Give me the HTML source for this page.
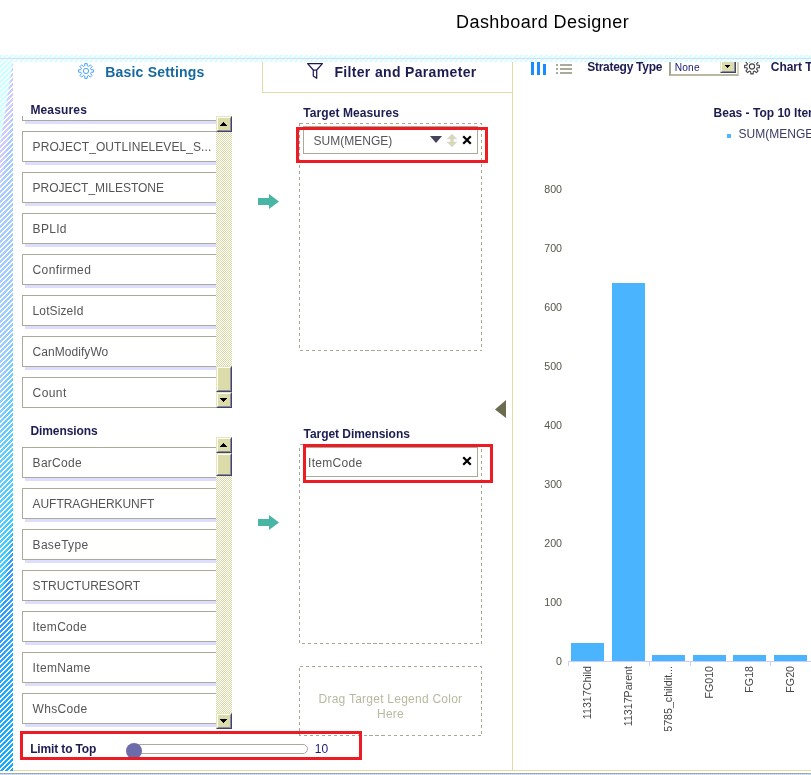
<!DOCTYPE html>
<html><head><meta charset="utf-8"><title>Dashboard Designer</title>
<style>
html,body{margin:0;padding:0;background:#fff;}
body{width:811px;height:775px;position:relative;overflow:hidden;font-family:"Liberation Sans", Arial, sans-serif;}
.t{position:absolute;line-height:20px;white-space:nowrap;}
.r{position:absolute;}
svg{position:absolute;overflow:visible;}
.list{position:absolute;left:22px;width:210px;height:292px;overflow:hidden;}
.item{position:absolute;left:0;width:204px;height:29px;border:1px solid #aaaa99;background:#fff;box-shadow:3px 3px 0 0 #ddddff;}
.item span{position:absolute;left:9.6px;top:5px;line-height:20px;font-size:12px;color:#555555;white-space:nowrap;}
.sb{position:absolute;left:194px;top:0;width:16px;height:292px;}
.btn{position:absolute;left:0;width:16px;height:16px;box-sizing:border-box;background:#dcdcaa;border-top:1px solid #e6e6b8;border-left:1px solid #e6e6b8;border-right:1px solid #44445e;border-bottom:1px solid #44445e;}
.btn:before{content:"";position:absolute;left:0;top:0;right:0;bottom:0;border-top:1px solid #fff;border-left:1px solid #fff;border-right:1px solid #8a8aa6;border-bottom:1px solid #8a8aa6;}
.dash{position:absolute;}
</style></head><body>

<svg width="0" height="0" style="left:0;top:0"><defs>
<pattern id="hatch" width="5" height="5" patternUnits="userSpaceOnUse">
<rect x="3" y="0" width="1" height="1" fill="#fff"/>
<rect x="4" y="0" width="1" height="1" fill="#fff"/>
<rect x="2" y="1" width="1" height="1" fill="#fff"/>
<rect x="3" y="1" width="1" height="1" fill="#fff"/>
<rect x="1" y="2" width="1" height="1" fill="#fff"/>
<rect x="2" y="2" width="1" height="1" fill="#fff"/>
<rect x="0" y="3" width="1" height="1" fill="#fff"/>
<rect x="1" y="3" width="1" height="1" fill="#fff"/>
<rect x="0" y="4" width="1" height="1" fill="#fff"/>
<rect x="4" y="4" width="1" height="1" fill="#fff"/>
</pattern>
<pattern id="chk" width="2" height="2" patternUnits="userSpaceOnUse"><rect width="2" height="2" fill="#fff"/><rect x="0" y="0" width="1" height="1" fill="#d8d8a4"/><rect x="1" y="1" width="1" height="1" fill="#d8d8a4"/></pattern>
<pattern id="dots" width="2" height="1" patternUnits="userSpaceOnUse"><rect width="1" height="1" fill="#aaddff"/><rect x="1" width="1" height="1" fill="#ddddff"/></pattern>
<linearGradient id="lg" gradientUnits="userSpaceOnUse" x1="0" y1="62" x2="119.3" y2="80.36">
<stop offset="0" stop-color="#ccffff"/>
<stop offset="0.098" stop-color="#ccffff"/>
<stop offset="0.111" stop-color="#ccccff"/>
<stop offset="0.155" stop-color="#ccccff"/>
<stop offset="0.171" stop-color="#aaccff"/>
<stop offset="0.42" stop-color="#99ccff"/>
<stop offset="0.50" stop-color="#66ccff"/>
<stop offset="0.60" stop-color="#55ccff"/>
<stop offset="0.68" stop-color="#33ccff"/>
<stop offset="0.715" stop-color="#3399ff"/>
<stop offset="0.76" stop-color="#33a0ff"/>
<stop offset="0.82" stop-color="#22aaff"/>
<stop offset="1" stop-color="#11aaff"/>
</linearGradient>
</defs></svg>
<div class="t " style="left:456px;top:11.55px;font-size:18px;color:#000;font-weight:normal;letter-spacing:0.45px;">Dashboard Designer</div>
<svg width="811" height="62" style="left:0;top:0" shape-rendering="crispEdges"><rect y="55" width="811" height="7" fill="#d4ffff"/><rect y="55" width="811" height="7" fill="url(#hatch)"/><rect y="58" width="811" height="1" fill="#d9d9ff"/></svg>
<svg width="13" height="771" style="left:0;top:0" shape-rendering="crispEdges"><rect y="62" width="13" height="709" fill="url(#lg)"/><rect y="62" width="13" height="709" fill="url(#hatch)"/></svg>
<div class="r" style="left:13px;top:770px;width:798px;height:1px;background:#ddddaa;"></div>
<div class="r" style="left:0px;top:773px;width:811px;height:1px;background:#aaaaa0;"></div>
<svg width="811" height="1" style="left:0;top:774px" shape-rendering="crispEdges"><rect width="811" height="1" fill="url(#dots)"/></svg>
<div class="r" style="left:512px;top:62px;width:1px;height:708px;background:#ddddaa;"></div>
<svg width="811" height="100" style="left:0;top:0"><path d="M84.69,65.86 L84.81,63.60 L87.19,63.60 L87.31,65.86 L88.70,66.44 L90.39,64.92 L92.08,66.61 L90.56,68.30 L91.14,69.69 L93.40,69.81 L93.40,72.19 L91.14,72.31 L90.56,73.70 L92.08,75.39 L90.39,77.08 L88.70,75.56 L87.31,76.14 L87.19,78.40 L84.81,78.40 L84.69,76.14 L83.30,75.56 L81.61,77.08 L79.92,75.39 L81.44,73.70 L80.86,72.31 L78.60,72.19 L78.60,69.81 L80.86,69.69 L81.44,68.30 L79.92,66.61 L81.61,64.92 L83.30,66.44Z" fill="none" stroke="#4aa3ff" stroke-width="1.0" stroke-linejoin="round"/><circle cx="86" cy="71" r="2.6" fill="none" stroke="#4aa3ff" stroke-width="1.0"/></svg>
<div class="t " style="left:105.2px;top:61.87px;font-size:14px;color:#15699f;font-weight:bold;letter-spacing:0.2px;">Basic Settings</div>
<div class="r" style="left:262px;top:62px;width:1px;height:31px;background:#ddddaa;"></div>
<div class="r" style="left:262px;top:92px;width:251px;height:1px;background:#ddddaa;"></div>
<svg width="811" height="100" style="left:0;top:0"><path d="M307.6,63.6 H322.4 L316.7,70 V78.3 L313.3,76 V70 Z M313.3,70 H316.7" fill="none" stroke="#1c1c50" stroke-width="1.25" stroke-linejoin="round"/></svg>
<div class="t " style="left:334.4px;top:62.07px;font-size:14px;color:#1c1c52;font-weight:bold;letter-spacing:0.34px;">Filter and Parameter</div>
<div class="t " style="left:30.4px;top:100.03px;font-size:12px;color:#1c1c52;font-weight:bold;letter-spacing:0.15px;">Measures</div>
<div class="list" style="top:116px">
<div class="item" style="top:-26px"><span style="letter-spacing:0px">&nbsp;</span></div>
<div class="item" style="top:15px"><span style="letter-spacing:0.08px">PROJECT_OUTLINELEVEL_S...</span></div>
<div class="item" style="top:56px"><span style="letter-spacing:-0.03px">PROJECT_MILESTONE</span></div>
<div class="item" style="top:97px"><span style="letter-spacing:0.3px">BPLId</span></div>
<div class="item" style="top:138px"><span style="letter-spacing:0.36px">Confirmed</span></div>
<div class="item" style="top:179px"><span style="letter-spacing:0.1px">LotSizeId</span></div>
<div class="item" style="top:220px"><span style="letter-spacing:0.05px">CanModifyWo</span></div>
<div class="item" style="top:261px"><span style="letter-spacing:0.4px">Count</span></div>
<div class="sb"><svg width="16" height="292" style="left:0;top:0" shape-rendering="crispEdges"><rect width="16" height="292" fill="url(#chk)"/></svg><div class="btn" style="top:0"></div><svg width="16" height="16" style="left:0;top:0" shape-rendering="crispEdges"><path d="M7,6h1v1h1v1h1v1h1v1h-7v-1h1v-1h1v-1h1z" fill="#000"/></svg><div class="btn" style="top:250px;height:26px"></div><div class="btn" style="top:276px"></div><svg width="16" height="16" style="left:0;top:276px" shape-rendering="crispEdges"><path d="M4,6h7v1h-1v1h-1v1h-1v1h-1v-1h-1v-1h-1v-1h-1z" fill="#000"/></svg></div>
</div>
<div class="t " style="left:30.4px;top:421.03px;font-size:12px;color:#1c1c52;font-weight:bold;letter-spacing:-0.08px;">Dimensions</div>
<div class="list" style="top:437px">
<div class="item" style="top:10px"><span style="letter-spacing:0.28px">BarCode</span></div>
<div class="item" style="top:51px"><span style="letter-spacing:-0.07px">AUFTRAGHERKUNFT</span></div>
<div class="item" style="top:92px"><span style="letter-spacing:0.3px">BaseType</span></div>
<div class="item" style="top:133px"><span style="letter-spacing:0.03px">STRUCTURESORT</span></div>
<div class="item" style="top:174px"><span style="letter-spacing:0.3px">ItemCode</span></div>
<div class="item" style="top:215px"><span style="letter-spacing:0.35px">ItemName</span></div>
<div class="item" style="top:256px"><span style="letter-spacing:0.3px">WhsCode</span></div>
<div class="sb"><svg width="16" height="292" style="left:0;top:0" shape-rendering="crispEdges"><rect width="16" height="292" fill="url(#chk)"/></svg><div class="btn" style="top:0"></div><svg width="16" height="16" style="left:0;top:0" shape-rendering="crispEdges"><path d="M7,6h1v1h1v1h1v1h1v1h-7v-1h1v-1h1v-1h1z" fill="#000"/></svg><div class="btn" style="top:16px;height:23px"></div><div class="btn" style="top:276px"></div><svg width="16" height="16" style="left:0;top:276px" shape-rendering="crispEdges"><path d="M4,6h7v1h-1v1h-1v1h-1v1h-1v-1h-1v-1h-1v-1h-1z" fill="#000"/></svg></div>
</div>
<div class="t " style="left:30.2px;top:738.53px;font-size:12px;color:#1c1c52;font-weight:bold;letter-spacing:-0.15px;">Limit to Top</div>
<div class="r" style="left:134px;top:744px;width:172px;height:8px;border:1px solid #aaaa99;border-radius:5px;background:#fff"></div>
<div class="r" style="left:126px;top:743px;width:16px;height:16px;border-radius:8px;background:#6c6caa"></div>
<div class="t " style="left:314.8px;top:738.73px;font-size:12px;color:#20207a;font-weight:normal;letter-spacing:0px;">10</div>
<svg width="811" height="775" style="left:0;top:0"><path d="M258,198.0 H269 V194.0 L279,201.5 L269,209.0 V205.0 H258 Z" fill="#48b5a5"/></svg>
<svg width="811" height="775" style="left:0;top:0"><path d="M258,519.0 H269 V515.0 L279,522.5 L269,530.0 V526.0 H258 Z" fill="#48b5a5"/></svg>
<div class="t " style="left:303.3px;top:102.83px;font-size:12px;color:#1c1c52;font-weight:bold;letter-spacing:0.08px;">Target Measures</div>
<svg width="183" height="228" style="left:299px;top:123px" shape-rendering="crispEdges"><rect x="0.5" y="0.5" width="182" height="227" fill="none" stroke="#a8a892" stroke-width="1" stroke-dasharray="3 3"/></svg>
<div class="t " style="left:303.5px;top:423.83px;font-size:12px;color:#1c1c52;font-weight:bold;letter-spacing:-0.05px;">Target Dimensions</div>
<svg width="183" height="200" style="left:299px;top:444px" shape-rendering="crispEdges"><rect x="0.5" y="0.5" width="182" height="199" fill="none" stroke="#a8a892" stroke-width="1" stroke-dasharray="3 3"/></svg>
<svg width="183" height="70" style="left:299px;top:666px" shape-rendering="crispEdges"><rect x="0.5" y="0.5" width="182" height="69" fill="none" stroke="#a8a892" stroke-width="1" stroke-dasharray="3 3"/></svg>
<div class="t " style="left:318.5px;top:688.83px;font-size:12px;color:#b9b9a0;font-weight:normal;letter-spacing:0.25px;">Drag Target Legend Color</div>
<div class="t " style="left:377px;top:703.53px;font-size:12px;color:#b9b9a0;font-weight:normal;letter-spacing:0.25px;">Here</div>
<div class="r" style="left:303px;top:126px;width:173px;height:26px;border:1px solid #aaaa99;background:#fff"></div>
<div class="t " style="left:313.6px;top:130.63px;font-size:12px;color:#555555;font-weight:normal;letter-spacing:0px;">SUM(MENGE)</div>
<svg width="811" height="775" style="left:0;top:0"><path d="M430,136 h12 l-6,7 z" fill="#44445a"/><path d="M447,139 l5,-5 l5,5 h-3.5 v3 h3.5 l-5,5 l-5,-5 h3.5 v-3 z" fill="#d9d9b0" stroke="#dcdcf4" stroke-width="0.7"/><path d="M464,137 l6,6 M470,137 l-6,6" stroke="#000" stroke-width="2.2" stroke-linecap="square" fill="none"/></svg>
<div class="r" style="left:303px;top:447px;width:173px;height:28px;border:1px solid #aaaa99;background:#fff"></div>
<div class="t " style="left:308.0px;top:452.63px;font-size:12px;color:#555555;font-weight:normal;letter-spacing:0.3px;">ItemCode</div>
<svg width="811" height="775" style="left:0;top:0"><path d="M464,458 l6,6 M470,458 l-6,6" stroke="#000" stroke-width="2.2" stroke-linecap="square" fill="none"/></svg>
<div class="r" style="left:296px;top:127px;width:186px;height:30px;border:3px solid #ed1c24"></div>
<div class="r" style="left:303px;top:444px;width:184px;height:33px;border:3px solid #ed1c24"></div>
<div class="r" style="left:20px;top:731px;width:336px;height:23px;border:3px solid #ed1c24"></div>
<svg width="811" height="775" style="left:0;top:0"><path d="M506,400 V418 L495,409.5 Z" fill="#6b6b4f"/></svg>
<div class="r" style="left:531px;top:62px;width:3px;height:13px;background:#1a8cff;"></div>
<div class="r" style="left:537px;top:62px;width:3px;height:13px;background:#1a8cff;"></div>
<div class="r" style="left:543px;top:64px;width:3px;height:11px;background:#1a8cff;"></div>
<div class="r" style="left:556px;top:64px;width:2px;height:2px;background:#aaaa99;"></div>
<div class="r" style="left:560px;top:64px;width:12px;height:2px;background:#aaaa99;"></div>
<div class="r" style="left:556px;top:68px;width:2px;height:2px;background:#aaaa99;"></div>
<div class="r" style="left:560px;top:68px;width:12px;height:2px;background:#aaaa99;"></div>
<div class="r" style="left:556px;top:72px;width:2px;height:2px;background:#aaaa99;"></div>
<div class="r" style="left:560px;top:72px;width:12px;height:2px;background:#aaaa99;"></div>
<div class="t " style="left:587.2px;top:56.53px;font-size:12px;color:#1c1c52;font-weight:bold;letter-spacing:-0.27px;">Strategy Type</div>
<div class="r" style="left:669px;top:57px;width:66px;height:15px;border-left:2px solid #a4a494;border-top:2px solid #a4a494;border-right:2px solid #d4d4bc;border-bottom:2px solid #b8b8a4;background:#fff"></div>
<div class="t " style="left:674.7px;top:57.93px;font-size:10.2px;color:#20207a;font-weight:normal;letter-spacing:0.2px;">None</div>
<div class="btn" style="position:absolute;left:720px;top:59px;width:16px;height:14px"></div>
<svg width="16" height="16" style="left:720px;top:59px" shape-rendering="crispEdges"><path d="M5,6h5v1h-1v1h-1v1h-1v-1h-1v-1h-1z" fill="#000"/></svg>
<svg width="811" height="100" style="left:0;top:0"><path d="M750.69,61.36 L750.81,59.10 L753.19,59.10 L753.31,61.36 L754.70,61.94 L756.39,60.42 L758.08,62.11 L756.56,63.80 L757.14,65.19 L759.40,65.31 L759.40,67.69 L757.14,67.81 L756.56,69.20 L758.08,70.89 L756.39,72.58 L754.70,71.06 L753.31,71.64 L753.19,73.90 L750.81,73.90 L750.69,71.64 L749.30,71.06 L747.61,72.58 L745.92,70.89 L747.44,69.20 L746.86,67.81 L744.60,67.69 L744.60,65.31 L746.86,65.19 L747.44,63.80 L745.92,62.11 L747.61,60.42 L749.30,61.94Z" fill="none" stroke="#44444a" stroke-width="1.1" stroke-linejoin="round"/><circle cx="752" cy="66.5" r="2.6" fill="none" stroke="#44444a" stroke-width="1.1"/></svg>
<div class="t " style="left:770.8px;top:56.53px;font-size:12px;color:#1c1c52;font-weight:bold;letter-spacing:-0.05px;">Chart Type</div>
<div class="t " style="left:713.6px;top:102.63px;font-size:12px;color:#1c1c52;font-weight:bold;letter-spacing:0px;">Beas - Top 10 Item</div>
<div class="r" style="left:727px;top:134px;width:4px;height:4px;background:#4db8ff;"></div>
<div class="t " style="left:738.6px;top:123.53px;font-size:12px;color:#3a3a66;font-weight:normal;letter-spacing:0px;">SUM(MENGE)</div>
<div class="t" style="left:500px;width:62px;text-align:right;top:179.2px;font-size:10.67px;color:#555548">800</div>
<div class="t" style="left:500px;width:62px;text-align:right;top:238.2px;font-size:10.67px;color:#555548">700</div>
<div class="t" style="left:500px;width:62px;text-align:right;top:297.2px;font-size:10.67px;color:#555548">600</div>
<div class="t" style="left:500px;width:62px;text-align:right;top:356.2px;font-size:10.67px;color:#555548">500</div>
<div class="t" style="left:500px;width:62px;text-align:right;top:415.2px;font-size:10.67px;color:#555548">400</div>
<div class="t" style="left:500px;width:62px;text-align:right;top:474.2px;font-size:10.67px;color:#555548">300</div>
<div class="t" style="left:500px;width:62px;text-align:right;top:533.2px;font-size:10.67px;color:#555548">200</div>
<div class="t" style="left:500px;width:62px;text-align:right;top:592.2px;font-size:10.67px;color:#555548">100</div>
<div class="t" style="left:500px;width:62px;text-align:right;top:651.2px;font-size:10.67px;color:#555548">0</div>
<div class="r" style="left:568px;top:661px;width:243px;height:1px;background:#ccccff;"></div>
<div class="r" style="left:568px;top:661px;width:1px;height:5px;background:#ccccff;"></div>
<div class="r" style="left:649px;top:661px;width:1px;height:5px;background:#ccccff;"></div>
<div class="r" style="left:690px;top:661px;width:1px;height:5px;background:#ccccff;"></div>
<div class="r" style="left:770px;top:661px;width:1px;height:5px;background:#ccccff;"></div>
<div class="r" style="left:571.3px;top:643.4px;width:33px;height:18.100000000000023px;background:#4bb4ff;"></div>
<div class="t" style="left:587.3px;top:665.8px;font-size:10.67px;color:#444;line-height:0;transform-origin:0 0;transform:rotate(-90deg) translate(-100%,0);"><span style="display:inline-block;line-height:0;vertical-align:baseline">11317Child</span></div>
<div class="r" style="left:611.8px;top:282.8px;width:33px;height:378.7px;background:#4bb4ff;"></div>
<div class="t" style="left:627.8px;top:665.8px;font-size:10.67px;color:#444;line-height:0;transform-origin:0 0;transform:rotate(-90deg) translate(-100%,0);"><span style="display:inline-block;line-height:0;vertical-align:baseline">11317Parent</span></div>
<div class="r" style="left:652.3px;top:654.6px;width:33px;height:6.899999999999977px;background:#4bb4ff;"></div>
<div class="t" style="left:668.3px;top:665.8px;font-size:10.67px;color:#444;line-height:0;transform-origin:0 0;transform:rotate(-90deg) translate(-100%,0);"><span style="display:inline-block;line-height:0;vertical-align:baseline">5785_childit...</span></div>
<div class="r" style="left:692.8px;top:654.6px;width:33px;height:6.899999999999977px;background:#4bb4ff;"></div>
<div class="t" style="left:708.8px;top:665.8px;font-size:10.67px;color:#444;line-height:0;transform-origin:0 0;transform:rotate(-90deg) translate(-100%,0);"><span style="display:inline-block;line-height:0;vertical-align:baseline">FG010</span></div>
<div class="r" style="left:733.3px;top:654.6px;width:33px;height:6.899999999999977px;background:#4bb4ff;"></div>
<div class="t" style="left:749.3px;top:665.8px;font-size:10.67px;color:#444;line-height:0;transform-origin:0 0;transform:rotate(-90deg) translate(-100%,0);"><span style="display:inline-block;line-height:0;vertical-align:baseline">FG18</span></div>
<div class="r" style="left:773.8px;top:654.6px;width:33px;height:6.899999999999977px;background:#4bb4ff;"></div>
<div class="t" style="left:789.8px;top:665.8px;font-size:10.67px;color:#444;line-height:0;transform-origin:0 0;transform:rotate(-90deg) translate(-100%,0);"><span style="display:inline-block;line-height:0;vertical-align:baseline">FG20</span></div>
<svg width="811" height="62" style="left:0;top:0" shape-rendering="crispEdges"><rect y="55" width="811" height="7" fill="#d4ffff"/><rect y="55" width="811" height="7" fill="url(#hatch)"/><rect y="58" width="811" height="1" fill="#d9d9ff"/></svg>
</body></html>
